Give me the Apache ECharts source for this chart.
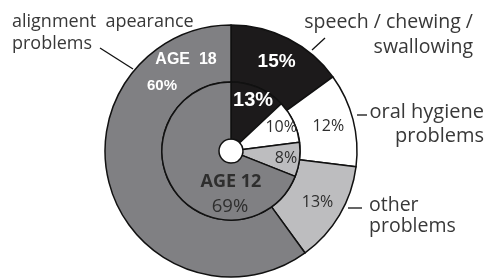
<!DOCTYPE html>
<html>
<head>
<meta charset="UTF-8">
<title>age pie</title>
<script type="text/javascript" src="https://cdn.jsdelivr.net/npm/echarts@6/dist/echarts.min.js"></script>
<style type="text/css">
	html,body{margin:0;padding:0;background:#fff;}
	#main{width:486px;height:278px;}
</style>
</head>
<body>
<div id="main"></div>
<script type="text/javascript">
	// categories, clockwise from the top
	var categories = ['speech / chewing /\nswallowing', 'oral hygiene\nproblems', 'other\nproblems', 'alignment  apearance\nproblems'];
	var age18 = [15, 12, 13, 60];   // outer ring
	var age12 = [13, 10, 8, 69];    // inner ring
	var ringNames = ['AGE  18', 'AGE 12'];
	var sliceColors = ['#1c1a1b', '#ffffff', '#bdbdbf', '#808083'];

	var cx = 231, cy = 151;
	var darkText = '#2e2e2e';

	function pctLabel(i, big){
		if(i == 3) return {show:false};
		if(i == 0) return {show:true, position:'inside', formatter:'{c}%', color:'#fff', fontFamily:'Liberation Sans', fontWeight:'bold', fontSize:big};
		return {show:true, position:'inside', formatter:'{c}%', color:darkText, fontFamily:'Open Sans', fontSize:16};
	}

	function ringData(vals, withLabels, big){
		var out = [];
		for(var i = 0;i<vals.length;i++){
			out.push({
				name: categories[i],
				value: vals[i],
				itemStyle: withLabels === 'only' ? {color:'transparent', borderWidth:0} : {color:sliceColors[i], borderColor:'#111', borderWidth:1.5},
				label: withLabels ? pctLabel(i, big) : {show:false}
			});
		}
		return out;
	}

	var cats = [];
	for(var i = 0;i<categories.length;i++) cats.push(categories[i].split('\n'));

	var graphics = [];
	function txt(s, x, y, size, align, opt){
		opt = opt || {};
		graphics.push({type:'text', z:100, style:{text:s, x:x, y:y, textAlign:align, textVerticalAlign:'bottom',
			font:(opt.weight||'normal') + ' ' + size + 'px ' + (opt.family||'"Open Sans"'), fill:opt.fill||'#383838'}});
	}
	function line(x1, y1, x2, y2){
		graphics.push({type:'line', z:100, shape:{x1:x1, y1:y1, x2:x2, y2:y2}, style:{stroke:'#111', lineWidth:1.3}});
	}

	// outside category labels
	txt(cats[3][0], 12, 31, 18, 'left');
	txt(cats[3][1], 12, 53, 18, 'left');
	txt(cats[0][0], 473, 32, 19.5, 'right');
	txt(cats[0][1], 473, 57, 19.5, 'right');
	txt(cats[1][0], 484, 122, 20, 'right');
	txt(cats[1][1], 484, 146, 20, 'right');
	txt(cats[2][0], 369, 215, 19.5, 'left');
	txt(cats[2][1], 369, 236, 19.5, 'left');
	line(100, 48, 133, 69);
	line(325, 38, 312, 50);
	line(357, 115, 367, 115);
	line(348, 208, 362, 208);

	// ring names in the alignment slices
	txt(ringNames[0], 186, 68, 16, 'center', {weight:'bold', family:'"Liberation Sans"', fill:'#fff'});
	txt(age18[3] + '%', 162, 93, 15, 'center', {weight:'bold', family:'"Liberation Sans"', fill:'#fff'});
	txt(ringNames[1], 231, 191, 18, 'center', {weight:'bold', fill:darkText});
	txt(age12[3] + '%', 230, 216, 18.5, 'center', {weight:'normal', fill:darkText});

	var myChart = echarts.init(document.getElementById('main'));
	var option = {
		animation: false,
		series: [{
			name: 'AGE 18',
			type: 'pie',
			center: [cx, cy],
			radius: [69, 126],
			startAngle: 90,
			clockwise: true,
			silent: true,
			labelLine: {show:false},
			data: ringData(age18, true, 19)
		},{
			name: 'AGE 12',
			type: 'pie',
			center: [cx, cy],
			radius: [12, 69],
			startAngle: 90,
			clockwise: true,
			silent: true,
			labelLine: {show:false},
			data: ringData(age12, false)
		},{
			// label carrier for the inner ring, sits a bit further out
			name: 'AGE 12 labels',
			type: 'pie',
			center: [cx, cy],
			radius: [36, 69],
			startAngle: 90,
			clockwise: true,
			silent: true,
			z: 5,
			labelLine: {show:false},
			data: ringData(age12, 'only', 20)
		}],
		graphic: graphics
	};
	myChart.setOption(option);
</script>
</body>
</html>
